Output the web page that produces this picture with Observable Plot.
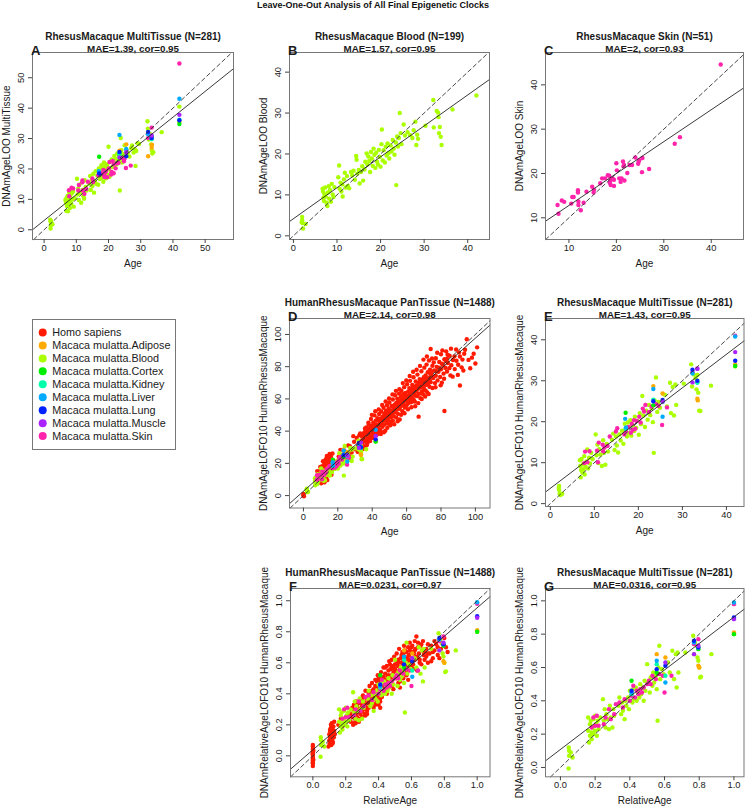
<!DOCTYPE html>
<html><head><meta charset="utf-8">
<script src="https://cdn.jsdelivr.net/npm/d3@7"></script>
<script src="https://cdn.jsdelivr.net/npm/@observablehq/plot@0.6"></script>
<style>
body{margin:0;background:#fff;font-family:"Liberation Sans",Arial,Helvetica,sans-serif;}
#root{position:relative;width:746px;height:809px;overflow:hidden;background:#fff}
#title{position:absolute;left:0;top:0;width:746px;text-align:center;font-weight:bold;font-size:9px;line-height:10px;color:#111}
</style></head><body><div id="root"><div id="title">Leave-One-Out Analysis of All Final Epigenetic Clocks</div></div>
<script>
const tissues = ["Homo sapiens","Macaca mulatta.Adipose","Macaca mulatta.Blood","Macaca mulatta.Cortex","Macaca mulatta.Kidney","Macaca mulatta.Liver","Macaca mulatta.Lung","Macaca mulatta.Muscle","Macaca mulatta.Skin"];
const colors = ["#FF1A00","#FFAA00","#AAFF00","#00EE00","#00FFAA","#00AAFF","#0022FF","#AA22FF","#FF22AA"];

// Panel A: RhesusMacaque MultiTissue LOO  [age, prediction, tissue]
const pointsA = [
[1.9,3.3,2],[2,2.6,2],[2.1,1.5,2],[2,0.4,2],[2.6,1.8,2],[2.2,2.9,2],
[6.6,9.8,2],[6.8,8.9,2],[6.9,6.2,2],[7,10.5,2],[7.1,7.8,2],[7.2,9.2,2],[7.3,11.2,2],[7.4,6.1,2],[7.5,8.5,2],[7.6,10.1,2],[7.8,12.3,2],[7.9,9.4,2],[8,7.2,2],[8.1,10.8,2],[8.3,12.5,2],[8.4,8.6,2],[8.6,11.9,2],[8.8,9.9,2],[9,12.6,2],[9.2,7.6,2],[9.5,10.4,2],
[10.2,16.8,2],[10.4,11.6,2],[10.6,13.5,2],[10.8,9.8,2],[11,14.8,2],[11.2,12.2,2],[11.5,8.9,2],[11.8,15.6,2],[12,13.1,2],[12.2,11,2],[12.4,10.2,2],[12.6,16.3,2],[12.9,14.1,2],[13.2,12.9,2],
[14,15.2,2],[14.3,17.7,2],[14.5,13.1,2],[14.8,16.4,2],[15,14.4,2],[15.3,18.4,2],[15.5,12.2,2],[15.8,16,2],[16,19.3,2],[16.2,15.1,2],[16.5,17.8,2],[16.8,14.8,2],[17,20.2,2],[17.3,16.7,2],
[17.6,19.4,2],[17.8,21.2,2],[18,17.1,2],[18.2,20.5,2],[18.4,15.8,2],[18.6,22.1,2],[18.8,18.6,2],[19,20.9,2],[19.2,16.9,2],[19.4,19.8,2],[19.6,21.6,2],[19.8,18.1,2],[20,27.3,2],[20.1,20.3,2],[20.3,17.4,2],[20.5,22.4,2],[20.7,19.2,2],[21,23.1,2],[21.2,20.7,2],[21.4,18.6,2],
[21.6,22.2,2],[21.8,24.3,2],[22,20.6,2],[22.2,23.4,2],[22.5,21.5,2],[22.7,25.1,2],[23,22.7,2],[23.3,24.6,2],[23.5,12.9,2],[23.6,23.3,2],[23.8,30.2,2],[24,26.2,2],[24.2,22.1,2],[24.5,24.9,2],[24.8,23.6,2],[25,27.8,2],
[26,25.3,2],[26.5,24.1,2],[27,26.9,2],[27.3,27.7,2],[27.8,25.4,2],[28.2,26.5,2],[28.4,21,2],[28.6,25.9,2],[29,28.5,2],[29.5,28.2,2],
[32.1,35.7,2],[32.2,33.2,2],[32.5,29.7,2],[33,31.4,2],[33.2,28.1,2],[33.4,26.2,2],[33.6,25.1,2],[33.9,25.5,2],[36.5,32.1,2],[42,40.5,2],
[7.7,13,8],[7.8,11,8],[8.5,13.8,8],[9,13.6,8],[10.6,12.9,8],[10.8,14.7,8],[11.9,15.6,8],[11.9,16.2,8],[12,12.9,8],[12.5,11.8,8],[13.1,13.4,8],[13.6,15.8,8],[15,16.9,8],[15.2,15.7,8],[16.8,17.9,8],[17.1,18.8,8],[17.8,18.6,8],[18.4,19.7,8],[18.6,17.9,8],[18.8,17.3,8],[19,18.8,8],[19.2,19.3,8],[19.6,17.3,8],[20.1,20.2,8],[20.3,22.3,8],[20.8,18.2,8],[21,19,8],[21.3,22.6,8],[21.6,18.6,8],[21.6,21.5,8],[22.2,20.2,8],[22.6,21.9,8],[23.1,22,8],[24.2,23.6,8],[24.8,22.5,8],[25.4,20.3,8],[26.9,21.1,8],[24.9,23.2,8],[32.3,30.2,8],[33.4,33.6,8],[42,54.7,8],
[23.4,26,1],[25.5,28.1,1],[32.3,24.2,1],[33.4,27,1],[33.5,28,1],[42,35.5,1],
[17.1,24,3],[23.4,24.6,3],[33.4,30.6,3],[42,34.8,3],
[23.4,25,4],[25.5,26.2,4],[33.4,29.8,4],[42,36.2,4],
[17,19.3,5],[23.4,31.2,5],[25.5,26.6,5],[32.3,31.4,5],[42,43.1,5],
[17.1,18.5,6],[23.4,25.6,6],[25.5,24.2,6],[32.3,32.2,6],[33.4,30.2,6],[42,36,6],
[23.4,23.8,7],[25.5,25.5,7],[33.4,31,7],[42,37.8,7]
];

// Panel B: RhesusMacaque Blood clock
const pointsB = [
[2,4.6,2],[2,3.8,2],[2.1,3.1,2],[2.2,1.8,2],[2.8,2.9,2],[1.9,3.3,2],
[6.7,11.5,2],[6.8,10.8,2],[6.9,9.3,2],[7,8.5,2],[7.1,10.2,2],[7.3,11.8,2],[7.4,9.6,2],[7.6,8.1,2],[7.8,7.3,2],[7.9,10.6,2],[8.1,12.1,2],[8.2,9.1,2],[8.4,11.2,2],[8.6,8.3,2],[8.8,12.7,2],[9,10.1,2],[9.2,9.5,2],[9.4,11.9,2],
[10.3,14.3,2],[10.5,17.2,2],[10.6,11.5,2],[10.8,13,2],[11,10.8,2],[11.2,12.6,2],[11.3,9.6,2],[11.6,13.8,2],[11.8,15.4,2],[12,11.8,2],[12.3,14.6,2],[12.5,12.2,2],[12.8,11.6,2],
[13.2,15.6,2],[13.5,14.8,2],[13.8,15.9,2],[14.1,13.7,2],[14.4,19.5,2],[14.5,18.6,2],[14.7,15.2,2],[15,16.1,2],[15.2,12.8,2],[15.5,15.6,2],[15.8,17,2],[16,13.5,2],[16.3,16.2,2],[16.5,18.1,2],
[16.8,20.1,2],[17,17.4,2],[17.2,19.4,2],[17.4,18.3,2],[17.6,15.6,2],[17.8,20.5,2],[18,18.9,2],[18.2,17.1,2],[18.4,21.3,2],[18.6,19.8,2],[18.8,16.6,2],[19,20.3,2],[19.2,18.1,2],[19.4,17.4,2],[19.6,21,2],[19.8,19.3,2],[20,16.9,2],[20.2,22.4,2],[20.3,26,2],[20.5,18.4,2],
[20.7,20.9,2],[21,17.9,2],[21.2,21.8,2],[21.4,19.6,2],[21.6,22.6,2],[21.8,20.2,2],[22,18.9,2],[22.3,22.1,2],[22.5,20.6,2],[22.8,23.4,2],[23,21.3,2],[23.2,19.8,2],[23.5,22.8,2],[23.6,12.4,2],[23.8,24.3,2],[24,21.8,2],[24.2,23.9,2],[24.4,30,2],[24.6,25.1,2],[24.8,22.4,2],
[25.3,27.2,2],[25.6,24.5,2],[26.2,25.3,2],[26.8,24.6,2],[27.3,23.9,2],[27.6,25.8,2],[28,27.9,2],[28.2,22.2,2],[28.4,24.7,2],[28.6,23.7,2],[30.3,26.9,2],
[32.1,33.2,2],[32.2,26.5,2],[32.9,30.5,2],[33.2,30.1,2],[33.3,29,2],[33.4,25.1,2],[33.6,26.6,2],[33.8,24.2,2],[34,22.2,2],[36.5,30.9,2],[42,34.3,2]
];

// Panel C: RhesusMacaque Skin clock
const pointsC = [
[7.6,12.9,8],[7.8,10.9,8],[8.5,13.9,8],[9,13.6,8],[10.5,13.2,8],[10.7,14.7,8],[11,14.7,8],[11.9,16.2,8],[11.9,15.7,8],[12,13.7,8],[12,12.9,8],[12.5,11.7,8],[13.1,13.4,8],[13.7,15.9,8],[14.9,17,8],[15.2,15.7,8],[15.3,16.3,8],[16.6,17.8,8],[17,18.9,8],[17.6,18.9,8],[18.2,19.6,8],[18.5,19.5,8],[18.6,17.9,8],[18.8,17.4,8],[18.7,18.4,8],[19.2,18.9,8],[19.5,18.6,8],[19.5,17.2,8],[20,22.3,8],[20.1,20.7,8],[20.6,18.9,8],[20.9,18.1,8],[21.1,18.9,8],[21.4,22.7,8],[21.5,21.6,8],[21.6,21.9,8],[21.7,18.4,8],[22.3,20.1,8],[22.8,21.9,8],[23.3,21.9,8],[24,23.6,8],[24.6,22.2,8],[24.7,22.7,8],[24.8,23,8],[25.4,20.3,8],[25.5,23.5,8],[26.9,21,8],[32.3,26.7,8],[33.4,28.2,8],[42,44.6,8],[19,18.7,8]
];

// Panel E: RhesusMacaque samples, HumanRhesusMacaque LOFO10
const pointsE = [
[2,4.3,2],[2,3.3,2],[2.1,2.4,2],[2.3,2.1,2],[2.7,2.4,2],[1.9,3.8,2],
[6.7,10.6,2],[6.8,9.2,2],[6.9,6.4,2],[7,8.2,2],[7.1,10.9,2],[7.3,7.6,2],[7.4,9.6,2],[7.5,8.4,2],[7.7,11.6,2],[7.8,7.1,2],[8,9,2],[8.2,10.3,2],[8.4,13.2,2],[8.6,8.6,2],[8.8,11.2,2],[9,9.8,2],[9.3,12.4,2],[9.6,10.9,2],
[10.3,16.9,2],[10.5,11.8,2],[10.7,14.4,2],[10.9,9.9,2],[11.1,13.3,2],[11.4,12,2],[11.7,9.2,2],[12,15.5,2],[12.2,12.4,2],[12.5,9.5,2],[12.8,14.6,2],[13.1,12.7,2],
[14,15.6,2],[14.3,17.1,2],[14.6,13.1,2],[14.9,16.4,2],[15.1,14.2,2],[15.4,12.5,2],[15.7,16.9,2],[16,15.4,2],[16.3,17.8,2],[16.6,14.6,2],[16.9,19.5,2],
[17.4,16.4,2],[17.6,19.8,2],[17.9,17.2,2],[18.2,20.4,2],[18.4,16.6,2],[18.7,19.1,2],[19,17.7,2],[19.2,21.2,2],[19.5,18.5,2],[19.8,20.2,2],[20.1,16.8,2],[20.3,22.1,2],[20.6,19.4,2],[20.9,26.3,2],[21.1,21.5,2],
[21.5,18.7,2],[21.8,22.7,2],[22.1,20.5,2],[22.4,24.1,2],[22.7,21.6,2],[23,23.3,2],[23.3,19.9,2],[23.5,12.4,2],[23.7,25.2,2],[24,30.8,2],[24.3,22.4,2],[24.6,24.8,2],[24.9,23.4,2],
[26,26.6,2],[26.5,23.7,2],[27.2,29.5,2],[27.4,22.1,2],[27.8,28.5,2],[28.1,21.5,2],[28.4,29.1,2],[28.6,24.1,2],[30.3,29.3,2],
[32,34,2],[32.2,28.6,2],[32.6,31.5,2],[33,30.6,2],[33.2,27.9,2],[33.4,31.4,2],[33.6,27.1,2],[33.8,22.7,2],[34.1,22.6,2],[36.5,28.8,2],[42,33.5,2],
[7.7,9.9,8],[7.9,12.7,8],[8.4,10.1,8],[8.9,12.8,8],[10.6,12.9,8],[10.8,10.1,8],[11,14.9,8],[11.9,14.4,8],[12,12.8,8],[12.3,13.7,8],[13,14.1,8],[13.5,16.4,8],[14.9,17.6,8],[15.2,18.4,8],[16.8,16.9,8],[17.2,17.6,8],[17.8,18.7,8],[18.3,17.3,8],[18.5,19.5,8],[18.7,18,8],[19,20.4,8],[19.3,18.3,8],[19.6,20.2,8],[20.2,21.2,8],[20.5,19.8,8],[21,23.2,8],[21.3,22.5,8],[21.6,24.1,8],[22.4,22.4,8],[23,23.7,8],[24,24.3,8],[24.6,23.9,8],[25.4,19.2,8],[26.5,23.5,8],[32.3,32.1,8],[33.4,33,8],[42,41,8],
[23.4,28.7,1],[25.5,26.9,1],[33.4,25.6,1],[33.5,25.2,1],[42,34,1],
[17.1,22.2,3],[23.4,24,3],[33.4,29.7,3],[42,33.6,3],
[23.4,25.4,4],[25.5,24.8,4],[33.4,29.5,4],[17.1,18.3,4],
[17,20.7,5],[23.4,28,5],[25.5,21.2,5],[32.3,31.8,5],[42,40.8,5],[17.2,18.6,5],
[23.4,25,6],[25.5,25.3,6],[32.3,32.7,6],[33.4,30,6],[42,34.9,6],
[25.5,24.9,7],[32.3,29.6,7],[33.4,32.9,7],[42,37,7]
];

// Panel G: RhesusMacaque samples, relative age
const pointsG = [
[0.05,0.1,2],[0.05,0.07,2],[0.047,-0.006,2],[0.06,0.09,2],[0.07,0.06,2],[0.048,0.12,2],
[0.16,0.3,2],[0.16,0.22,2],[0.165,0.15,2],[0.17,0.26,2],[0.17,0.19,2],[0.175,0.28,2],[0.18,0.21,2],[0.18,0.17,2],[0.185,0.24,2],[0.19,0.29,2],[0.19,0.2,2],[0.2,0.31,2],[0.2,0.22,2],[0.205,0.26,2],[0.21,0.19,2],[0.215,0.28,2],[0.22,0.23,2],[0.23,0.3,2],
[0.245,0.41,2],[0.25,0.28,2],[0.255,0.35,2],[0.26,0.24,2],[0.265,0.32,2],[0.27,0.29,2],[0.28,0.23,2],[0.285,0.37,2],[0.29,0.3,2],[0.3,0.24,2],[0.305,0.35,2],[0.31,0.31,2],
[0.335,0.37,2],[0.34,0.42,2],[0.35,0.32,2],[0.355,0.39,2],[0.36,0.34,2],[0.37,0.29,2],[0.375,0.4,2],[0.38,0.37,2],[0.39,0.42,2],[0.395,0.35,2],[0.4,0.46,2],
[0.415,0.39,2],[0.42,0.47,2],[0.425,0.41,2],[0.435,0.48,2],[0.44,0.4,2],[0.445,0.45,2],[0.455,0.42,2],[0.46,0.5,2],[0.465,0.44,2],[0.475,0.48,2],[0.48,0.4,2],[0.485,0.52,2],[0.49,0.46,2],[0.5,0.62,2],[0.505,0.51,2],
[0.515,0.45,2],[0.52,0.54,2],[0.53,0.49,2],[0.535,0.57,2],[0.54,0.51,2],[0.55,0.55,2],[0.555,0.47,2],[0.56,0.28,2],[0.565,0.6,2],[0.57,0.73,2],[0.575,0.53,2],[0.585,0.59,2],[0.595,0.56,2],
[0.62,0.63,2],[0.63,0.57,2],[0.645,0.7,2],[0.655,0.53,2],[0.665,0.68,2],[0.67,0.48,2],[0.675,0.69,2],[0.68,0.57,2],[0.72,0.69,2],
[0.765,0.79,2],[0.77,0.68,2],[0.775,0.75,2],[0.785,0.73,2],[0.79,0.66,2],[0.795,0.64,2],[0.8,0.6,2],[0.805,0.54,2],[0.81,0.545,2],[0.87,0.68,2],[1,0.8,2],
[0.18,0.24,8],[0.19,0.3,8],[0.2,0.25,8],[0.21,0.31,8],[0.22,0.25,8],[0.25,0.26,8],[0.26,0.3,8],[0.28,0.35,8],[0.29,0.29,8],[0.31,0.32,8],[0.32,0.38,8],[0.34,0.39,8],[0.36,0.36,8],[0.37,0.41,8],[0.4,0.4,8],[0.41,0.43,8],[0.42,0.49,8],[0.43,0.42,8],[0.44,0.46,8],[0.45,0.44,8],[0.46,0.47,8],[0.47,0.45,8],[0.48,0.48,8],[0.5,0.5,8],[0.51,0.52,8],[0.52,0.5,8],[0.53,0.55,8],[0.55,0.53,8],[0.57,0.56,8],[0.59,0.55,8],[0.6,0.45,8],[0.64,0.55,8],[0.77,0.74,8],[0.795,0.77,8],[1,0.98,8],
[0.555,0.68,1],[0.605,0.66,1],[0.795,0.61,1],[0.8,0.6,1],[1,0.81,1],
[0.41,0.52,3],[0.555,0.57,3],[0.795,0.71,3],[1,0.8,3],
[0.555,0.62,4],[0.605,0.55,4],[0.41,0.44,4],[0.795,0.72,4],
[0.41,0.45,5],[0.555,0.64,5],[0.605,0.51,5],[0.77,0.75,5],[1,0.99,5],
[0.41,0.46,6],[0.555,0.59,6],[0.605,0.61,6],[0.77,0.76,6],[0.795,0.72,6],[1,0.9,6],
[0.605,0.63,7],[0.77,0.68,7],[0.795,0.73,7],[1,0.89,7]
];

// Human samples for panel D (age, DNAm age)
const humanD = [
[0,0.2],[0,1],[0.3,-0.4],
[8,15.2],[8.5,8.6],[9,11.3],[9.5,13.6],[10,9.8],[10.2,16.4],[10.5,12.1],[10.8,14.9],[11,18.2],[11.2,10.4],[11.5,13.3],[11.7,16.8],[12,11.6],[12.1,20.3],[12.3,14.5],[12.5,17.5],[12.6,9.3],[12.8,12.9],[13,22.6],[13,15.8],[13.2,18.9],[13.3,11.1],[13.5,14.1],[13.6,24.6],[13.8,16.9],[14,20.5],[14,12.7],[14.2,17.8],[14.3,23.1],[14.5,15.3],[14.6,19.6],[14.8,13.9],[15,21.4],[15,17.2],[15.2,25.8],[15.3,14.8],[15.5,19],[15.6,22.3],[15.8,16.1],[16,18.5],[16,24.1],[16.2,20.8],[16.5,15.6],[16.7,22],[17,19.3],[17.2,17],[17.5,21.6],
[9.8,17.7],[11.4,21.3],[12.7,19.7],[13.9,9.6],[15.4,23.8],[16.3,12.9],[16.9,26.1],[10.3,7.6],[14.7,21.5],[12.2,8.2],
[19,20.5],[20.5,24.2],[22,22.1],[24,27.5],[25.5,23.9],[27,30.6],[28,26.8],[29.5,33.4],[30,28.7],[31,35.8],[32,31.2],[32.5,37.4],[33,29.6],[33.5,34.1],
[20,17.8],[23,25.6],[26,31.1],[29,36.9],[31.5,27.2],[21.5,28.4],[27.5,24.3],
[34,36.8],[34.3,31.9],[34.6,33.5],[35,38.7],[35,35.2],[35.3,30.4],[35.6,36.9],[36,40.1],[36,33.6],[36.3,37.8],[36.6,42.3],[37,35.1],[37,39.2],[37.3,32.8],[37.6,41.4],[38,37.6],[38,44.1],[38.3,35.4],[38.6,39.9],[39,42.6],[39,36.6],[39.3,47.5],[39.6,38.4],[40,43.3],[40,40.1],[40.3,35.8],[40.6,45.2],[41,41.7],[41,38.9],[41.3,49.8],[41.6,43.8],[42,40.2],[42,46.5],[42.3,37.4],[42.6,44.2],[43,48.1],[43,41.9],[43.3,39.5],[43.6,46.8],[44,43.4],[44,50.6],[44.3,41.1],[44.6,47.7],[45,44.6],[45,38.2],
[45.3,52.2],[45.6,45.9],[46,49],[46,42.7],[46.3,47.3],[46.6,54.5],[47,44.1],[47,50.8],[47.3,47.6],[47.6,40.3],[48,52.7],[48,46.4],[48.3,49.5],[48.6,56.1],[49,44.8],[49,51.3],[49.3,48.1],[49.6,53.9],[50,46.2],[50,57.8],[50.3,50.4],[50.6,43.6],[51,52.9],[51,48.7],[51.3,55.6],[51.6,50.9],[52,46.5],[52,59.6],[52.3,53.1],[52.6,49.2],[53,56.4],[53,51.7],[53.3,62.3],[53.6,54],[54,48.4],[54,57.5],[54.3,53.2],[54.6,60.1],[55,50.7],[55,55.3],
[55.3,58.8],[55.6,63.4],[56,53.9],[56,47.2],[56.3,57.1],[56.6,61.2],[57,55.7],[57,65.1],[57.3,59.4],[57.6,52.3],[58,58.2],[58,62.9],[58.3,56.4],[58.6,67.3],[59,60.3],[59,54.6],[59.3,63.7],[59.6,58.8],[60,61.9],[60,56.1],[60.3,69.1],[60.6,60.2],[61,64.6],[61,57.4],[61.3,62.1],[61.6,66.7],[62,59.3],[62,71.2],[62.3,63.5],[62.6,57.9],[63,66.2],[63,61],[63.3,68.6],[63.6,64.3],[64,59.8],[64,73.4],[64.3,65.9],[64.6,62.4],[65,67.7],[65,55.4],
[65.3,70.8],[65.6,64.6],[66,68.4],[66,61.7],[66.3,75.1],[66.6,66.2],[67,49],[67,69.9],[67.3,63.2],[67.6,72.3],[68,67],[68,60.5],[68.3,70.6],[68.6,77.2],[69,64.7],[69,71.8],[69.3,68.1],[69.6,62.9],[70,73.5],[70,66.8],[70.3,79.4],[70.6,70.2],[71,65.3],[71,74.6],[71.3,68.7],[71.6,81.3],[72,71.2],[72,64],[72.3,76.5],[72.6,69.6],[73,83.8],[73,73.1],[73.3,67.5],[73.6,78.2],[74,70.4],[74,91],[74.5,74.7],[75,66.8],[75,80.6],
[75.5,72.9],[76,77.6],[76.5,69.8],[77,85.2],[77,74.3],[77.5,79.9],[78,71.5],[78.5,76.8],[79,82.9],[79.5,73.6],[80,87.7],[80,78.4],[80.5,70.1],[81,81.2],[81.5,75.7],[82,52.5],[82,84.6],[82.5,79.3],[83,89.5],[83.5,77],[84,82.3],[85,86.8],[85.5,74.6],[86,80.9],[87,84.1],[88,78.5],[89,83.7],[90,81.2],[91,68.3],[91,86.3],[92,79.6],
[95,97],[96,84.2],[97,79],[99,88],[100,82],[101,92],[94,90.5],[98,85.6],[93,77.6],
[33,38.5],[34.5,28.9],[35.8,41.6],[36.8,31.2],[37.8,45.3],[38.8,33.9],[39.8,50.1],[40.8,36.4],[41.8,52.3],[42.8,38],[43.8,53.5],[44.8,40.6],[45.8,56.2],[46.8,39.3],[47.8,58.4],[48.8,42.1],[49.8,60.3],[50.8,45.4],[51.8,62.8],[52.8,44.3],[53.8,65],[54.8,46.1],[55.8,66.1],[56.8,50.2],[57.8,69.8],[58.8,51.1],[59.8,71.5],[60.8,53.6],[61.8,74.2],[62.8,54.8],[63.8,76.9],[64.8,58.3],[65.8,78.1],[66.8,57.4],[67.8,80.5],[68.8,59.9],[69.8,84.4],[70.8,61.5],[71.8,86.3],[72.8,63],[73.8,75.6],[74.8,85.1],[75.8,82.7],[76.8,67.2],[77.8,88.6],[78.8,79.3],[79.8,68.4],[80.8,90.1],[81.8,72.5],[82.8,83.5],[83.8,87.4],[84.8,79.1],[85.8,91.2],[86.8,73.8],[87.8,86.4],[88.8,90.7],[89.8,74.9],[90.5,88.9],[92.5,84.4],[93.5,88],
[40.5,42.6],[44.5,45.1],[47.5,48.9],[50.5,52.1],[53.5,55.8],[56.5,58.2],[59.5,61.4],[62.5,64.9],[65.5,66.6],[68.5,69.2],[71.5,72.4],[74.5,76.3],[77.5,77.2],[80.5,81.9],[83.5,84.8],[36.5,38.9],[38.5,41.2],[42.5,43.1],[46.5,46.7],[49.5,50.1],[52.5,55.1],[55.5,56.9],[58.5,60.5],[61.5,60.7],[64.5,63.8],[67.5,68.8],[70.5,71.1],[73.5,71.8]
];

// Human samples for panel F (relative age, DNAm relative age)
const humanF = [
[0,-0.065],[0,-0.05],[0,-0.04],[0,-0.03],[0,-0.02],[0,-0.01],[0,0],[0,0.01],[0,0.02],[0,0.03],[0,0.045],[0,0.06],[0,0.07],[0.003,0.035],[0.003,-0.025],[0,0.015],[0,-0.045],
[0.095,0.06],[0.1,0.1],[0.1,0.14],[0.102,0.08],[0.105,0.12],[0.105,0.16],[0.108,0.1],[0.11,0.18],[0.11,0.13],[0.112,0.07],[0.115,0.15],[0.115,0.21],[0.118,0.11],[0.12,0.17],[0.12,0.13],[0.122,0.09],[0.125,0.19],[0.125,0.15],[0.128,0.12],[0.13,0.16],[0.13,0.22],[0.133,0.14],[0.11,0.2],[0.12,0.08],[0.105,0.17],
[0.155,0.2],[0.17,0.24],[0.18,0.19],[0.2,0.22],
[0.22,0.26],[0.23,0.22],[0.235,0.3],[0.24,0.25],[0.245,0.2],[0.25,0.28],[0.25,0.33],[0.255,0.24],[0.26,0.3],[0.26,0.27],[0.265,0.35],[0.27,0.25],[0.27,0.31],[0.275,0.28],[0.28,0.22],[0.28,0.34],[0.285,0.3],[0.29,0.27],[0.29,0.36],[0.295,0.31],[0.3,0.25],[0.3,0.33],[0.3,0.29],[0.305,0.39],[0.31,0.3],[0.31,0.35],[0.315,0.27],[0.32,0.33],[0.32,0.42],[0.325,0.31],[0.33,0.37],[0.33,0.29],[0.335,0.34],[0.34,0.4],[0.34,0.31],[0.345,0.45],[0.35,0.36],[0.35,0.33],
[0.355,0.41],[0.36,0.38],[0.36,0.47],[0.365,0.34],[0.37,0.43],[0.37,0.4],[0.375,0.37],[0.38,0.49],[0.38,0.42],[0.385,0.38],[0.39,0.45],[0.39,0.35],[0.395,0.52],[0.4,0.43],[0.4,0.39],[0.405,0.48],[0.41,0.44],[0.41,0.37],[0.415,0.54],[0.42,0.47],[0.42,0.42],[0.425,0.5],[0.43,0.45],[0.43,0.57],[0.435,0.41],[0.44,0.49],[0.44,0.53],[0.445,0.46],[0.45,0.58],[0.45,0.43],[0.455,0.51],[0.46,0.48],[0.46,0.55],[0.465,0.61],[0.47,0.5],[0.47,0.45],[0.475,0.56],[0.48,0.52],[0.48,0.62],[0.485,0.49],[0.49,0.57],[0.49,0.54],[0.495,0.64],[0.5,0.51],[0.5,0.59],[0.4,0.33],[0.41,0.31],
[0.505,0.55],[0.51,0.66],[0.51,0.5],[0.515,0.58],[0.52,0.62],[0.52,0.54],[0.525,0.69],[0.53,0.57],[0.53,0.48],[0.535,0.63],[0.54,0.6],[0.54,0.53],[0.545,0.67],[0.55,0.58],[0.55,0.62],[0.555,0.71],[0.56,0.55],[0.56,0.64],[0.565,0.6],[0.57,0.67],[0.57,0.52],[0.575,0.63],[0.58,0.7],[0.58,0.58],[0.585,0.65],[0.59,0.61],[0.59,0.73],[0.595,0.56],[0.6,0.67],[0.6,0.63],[0.605,0.71],[0.61,0.59],[0.615,0.66],[0.62,0.74],[0.62,0.62],[0.625,0.69],[0.63,0.64],[0.635,0.55],[0.64,0.7],[0.645,0.66],[0.65,0.62],
[0.655,0.71],[0.66,0.59],[0.665,0.68],[0.67,0.74],[0.675,0.65],[0.68,0.62],[0.69,0.69],[0.7,0.6],[0.7,0.72],[0.71,0.66],[0.72,0.71],[0.73,0.63],[0.74,0.68],[0.75,0.72],[0.76,0.65],[0.77,0.74],[0.78,0.69],[0.8,0.76],[0.81,0.7],[0.55,0.5],[0.58,0.49],[0.53,0.44],
[0.24,0.31],[0.26,0.21],[0.28,0.29],[0.3,0.37],[0.32,0.26],[0.34,0.35],[0.36,0.42],[0.38,0.33],[0.4,0.5],[0.42,0.38],[0.44,0.43],[0.46,0.52],[0.48,0.45],[0.5,0.56],[0.52,0.47],[0.54,0.65],[0.56,0.59],[0.58,0.62],[0.6,0.58],[0.62,0.68],[0.64,0.63],[0.66,0.72],[0.68,0.67],[0.7,0.66],[0.72,0.61],[0.74,0.74],[0.76,0.7],[0.79,0.72],[0.82,0.67],[0.63,0.77],[0.59,0.68],[0.55,0.66],[0.51,0.61],[0.47,0.59],[0.43,0.51],[0.39,0.48],[0.35,0.4],[0.31,0.38],[0.27,0.33],[0.23,0.27],[0.25,0.21],[0.29,0.24],[0.33,0.27],[0.37,0.31],[0.41,0.35],[0.45,0.4],[0.49,0.43],[0.53,0.51],[0.57,0.55],[0.61,0.56],[0.65,0.6],[0.69,0.64],[0.73,0.67],[0.77,0.63],[0.44,0.57],[0.48,0.58],[0.52,0.6],[0.56,0.68],[0.6,0.7],[0.64,0.73],[0.42,0.5],[0.38,0.45],[0.34,0.37],[0.3,0.31],[0.26,0.24]
];

// Fitted regression lines [intercept, slope]
const fitA = [3.06, 0.849];
const fitB = [4.18, 0.756];
const fitC = [5.58, 0.72];
const fitD = [2.7, 0.95];
const fitE = [3.73, 0.818];
const fitF = [0.0386, 0.916];
const fitG = [0.108, 0.795];

// Titles and tick labels
const titles = ["RhesusMacaque MultiTissue (N=281)","RhesusMacaque Blood (N=199)","RhesusMacaque Skin (N=51)","HumanRhesusMacaque PanTissue (N=1488)","RhesusMacaque MultiTissue (N=281)","HumanRhesusMacaque PanTissue (N=1488)","RhesusMacaque MultiTissue (N=281)"];
const subtitles = ["MAE=1.39, cor=0.95","MAE=1.57, cor=0.95","MAE=2, cor=0.93","MAE=2.14, cor=0.98","MAE=1.43, cor=0.95","MAE=0.0231, cor=0.97","MAE=0.0316, cor=0.95"];
const yLabels = ["DNAmAgeLOO MultiTissue","DNAmAgeLOO Blood","DNAmAgeLOO Skin","DNAmAgeLOFO10 HumanRhesusMacaque","DNAmAgeLOFO10 HumanRhesusMacaque","DNAmRelativeAgeLOFO10 HumanRhesusMacaque","DNAmRelativeAgeLOFO10 HumanRhesusMacaque"];
const ticksA = [0,10,20,30,40,50];
const ticksB = [0,10,20,30,40];
const ticksC = [10,20,30,40];
const ticksD = [0,20,40,60,80,100];
const ticksRel = [0,0.2,0.4,0.6,0.8,1.0];

const FONT = '"Liberation Sans", Arial, Helvetica, sans-serif';
const root = document.getElementById("root");

function clipLine(a, b, xd, yd) {
  const yAt = x => a + b * x, xAt = y => (y - a) / b;
  let x0 = xd[0], x1 = xd[1];
  if (yAt(x0) < yd[0]) x0 = xAt(yd[0]);
  if (yAt(x1) > yd[1]) x1 = xAt(yd[1]);
  return [[x0, yAt(x0)], [x1, yAt(x1)]];
}

function panel(cfg) {
  const mL = 40, mT = 54, mR = 4, mB = 38;
  const W = cfg.box[1] - cfg.box[0], H = cfg.box[3] - cfg.box[2];
  const fmt = cfg.fmt || (d => String(d));
  const txt = "#1a1a1a";
  const svg = Plot.plot({
    width: mL + W + mR, height: mT + H + mB,
    marginLeft: mL, marginTop: mT, marginRight: mR, marginBottom: mB,
    style: {fontFamily: FONT, fontSize: "9px", color: "#444", background: "none", overflow: "visible"},
    x: {domain: cfg.xd},
    y: {domain: cfg.yd},
    color: {type: "ordinal", domain: d3.range(9), range: colors},
    marks: [
      Plot.dot(cfg.points, {x: d => d[0], y: d => d[1], fill: d => d[2], r: 2.2}),
      Plot.line(clipLine(0, 1, cfg.xd, cfg.yd), {x: d => d[0], y: d => d[1], stroke: "#333", strokeWidth: 0.9, strokeDasharray: "4,3"}),
      Plot.line(clipLine(cfg.fit[0], cfg.fit[1], cfg.xd, cfg.yd), {x: d => d[0], y: d => d[1], stroke: "#222", strokeWidth: 0.9}),
      Plot.frame({stroke: "#777"}),
      Plot.axisX({ticks: cfg.xt, tickSize: 4, tickFormat: () => "", label: null}),
      Plot.axisY({ticks: cfg.yt, tickSize: 4, tickFormat: () => "", label: null}),
      Plot.text(cfg.xt, {x: d => d, text: fmt, frameAnchor: "bottom", dy: 11.5, fontSize: 9.3, fill: txt, textAnchor: "middle"}),
      Plot.text(cfg.yt, {y: d => d, text: fmt, frameAnchor: "left", dx: -11.5, rotate: -90, fontSize: 9.3, fill: txt, textAnchor: "middle"}),
      Plot.text([cfg.xl], {text: d => d, frameAnchor: "bottom", dy: 27, fontSize: 10, fill: txt, textAnchor: "middle"}),
      Plot.text([cfg.yl], {text: d => d, frameAnchor: "left", dx: -25.5, rotate: -90, fontSize: 10, fill: txt, textAnchor: "middle"}),
      Plot.text([cfg.title], {text: d => d, frameAnchor: "top", dy: -19.5, fontSize: 10, fontWeight: "bold", fill: txt, textAnchor: "middle"}),
      Plot.text([cfg.sub], {text: d => d, frameAnchor: "top", dy: -7.5, fontSize: 9.8, fontWeight: "bold", fill: txt, textAnchor: "middle"}),
      Plot.text([cfg.letter], {text: d => d, frameAnchor: "top-left", dx: -1.5, dy: -7, textAnchor: "start", fontSize: 13, fontWeight: "bold", fill: txt})
    ]
  });
  svg.style.position = "absolute";
  svg.style.left = (cfg.box[0] - mL) + "px";
  svg.style.top = (cfg.box[2] - mT) + "px";
  root.append(svg);
}

const relFmt = d3.format(".1f");
panel({box: [32, 233, 52, 239], xd: [-3.6, 58.8], yd: [-3.2, 58.3], xt: ticksA, yt: ticksA, points: pointsA, fit: fitA, title: titles[0], sub: subtitles[0], letter: "A", xl: "Age", yl: yLabels[0]});
panel({box: [289, 489, 52, 239], xd: [-0.9, 45], yd: [-0.9, 44.8], xt: ticksB, yt: ticksB, points: pointsB, fit: fitB, title: titles[1], sub: subtitles[1], letter: "B", xl: "Age", yl: yLabels[1]});
panel({box: [545, 743, 52, 239], xd: [5.06, 46.8], yd: [5.1, 47.3], xt: ticksC, yt: ticksC, points: pointsC, fit: fitC, title: titles[2], sub: subtitles[2], letter: "C", xl: "Age", yl: yLabels[2]});
panel({box: [288.5, 489, 318, 507.5], xd: [-8.1, 108.5], yd: [-7.7, 109.9], xt: ticksD, yt: ticksD, points: humanD.map(d => [d[0], d[1], 0]).concat(pointsE), fit: fitD, title: titles[3], sub: subtitles[3], letter: "D", xl: "Age", yl: yLabels[3]});
panel({box: [544.5, 743, 318, 506], xd: [-1.1, 44], yd: [-0.7, 45.2], xt: ticksB, yt: ticksB, points: pointsE, fit: fitE, title: titles[4], sub: subtitles[4], letter: "E", xl: "Age", yl: yLabels[4]});
panel({box: [289.5, 489, 587.7, 776], xd: [-0.136, 1.078], yd: [-0.135, 1.079], xt: ticksRel, yt: ticksRel, fmt: relFmt, points: humanF.map(d => [d[0], d[1], 0]).concat(pointsG), fit: fitF, title: titles[5], sub: subtitles[5], letter: "F", xl: "RelativeAge", yl: yLabels[5]});
panel({box: [544.5, 743, 587.7, 776], xd: [-0.086, 1.058], yd: [-0.056, 1.074], xt: ticksRel, yt: ticksRel, fmt: relFmt, points: pointsG, fit: fitG, title: titles[6], sub: subtitles[6], letter: "G", xl: "RelativeAge", yl: yLabels[6]});

// Legend
const lg = d3.select(root).append("svg").style("position", "absolute").style("left", "32px").style("top", "319px")
  .attr("width", 145).attr("height", 132);
lg.append("rect").attr("x", 0.5).attr("y", 0.5).attr("width", 143).attr("height", 130).attr("fill", "#fff").attr("stroke", "#777");
const items = lg.selectAll("g").data(tissues).join("g").attr("transform", (d, i) => `translate(0,${13.5 + i * 12.95})`);
items.append("circle").attr("cx", 10.7).attr("cy", 0).attr("r", 4).attr("fill", (d, i) => colors[i]);
items.append("text").attr("x", 20.3).attr("y", 0).attr("dy", "0.35em").attr("font-family", FONT).attr("font-size", 10.8).attr("fill", "#1a1a1a").text(d => d);
</script></body></html>
